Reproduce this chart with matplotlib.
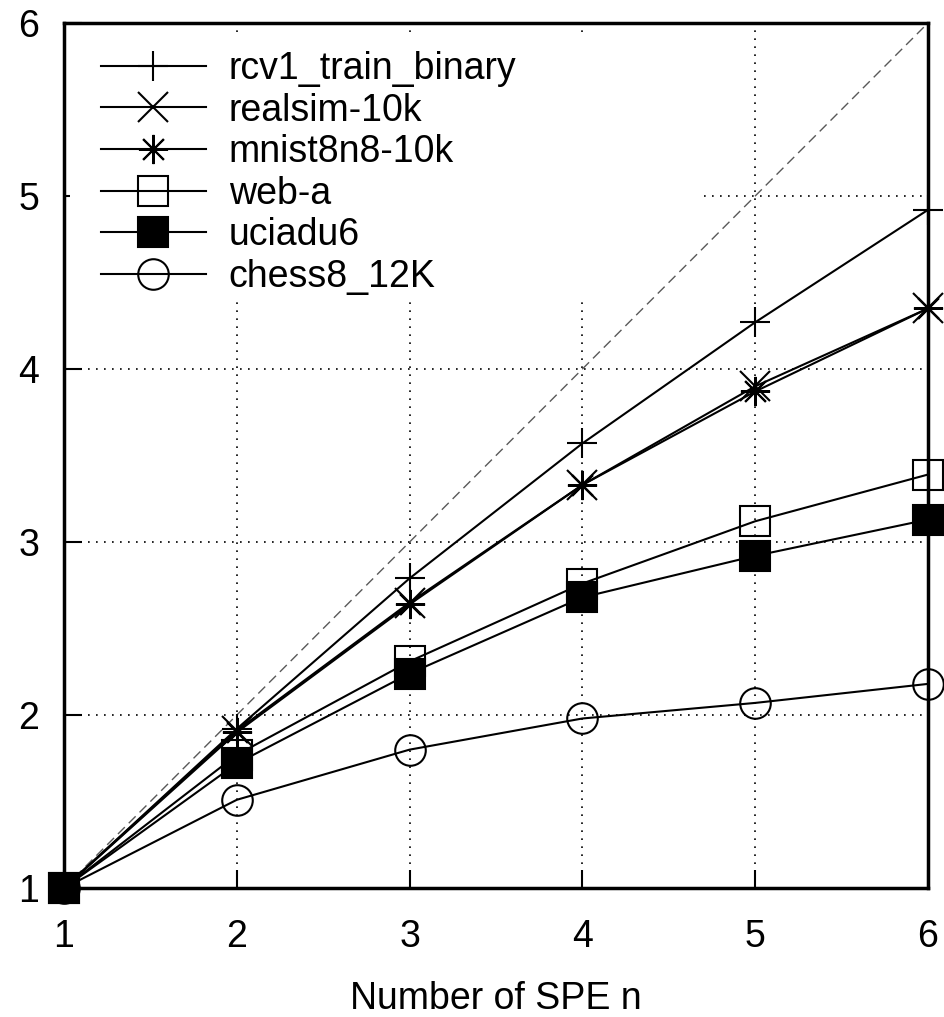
import matplotlib
matplotlib.use("Agg")
import matplotlib.pyplot as plt
from matplotlib.patches import Rectangle

# speedup vs number of SPEs
n_spe = [1, 2, 3, 4, 5, 6]
rcv1_train_binary = [1.0, 1.92, 2.79, 3.57, 4.27, 4.92]
realsim_10k = [1.0, 1.91, 2.65, 3.33, 3.90, 4.35]
mnist8n8_10k = [1.0, 1.90, 2.64, 3.33, 3.87, 4.35]
web_a = [1.0, 1.77, 2.31, 2.76, 3.12, 3.39]
uciadu6 = [1.0, 1.72, 2.24, 2.68, 2.92, 3.13]
chess8_12K = [1.0, 1.51, 1.80, 1.98, 2.07, 2.18]

series = [
    ("rcv1_train_binary", rcv1_train_binary, dict(marker="+", mfc="none")),
    ("realsim-10k", realsim_10k, dict(marker="x", mfc="none")),
    ("mnist8n8-10k", mnist8n8_10k, dict(marker=(8, 2, 0), mfc="none")),
    ("web-a", web_a, dict(marker="s", mfc="none")),
    ("uciadu6", uciadu6, dict(marker="s", mfc="black")),
    ("chess8_12K", chess8_12K, dict(marker="o", mfc="none")),
]

plt.rcParams["font.family"] = ["Liberation Sans", "DejaVu Sans"]

fig = plt.figure(figsize=(9.45, 10.17), dpi=100)
ax = fig.add_axes([0.0677, 0.1268, 0.9143, 0.8506])

# ideal linear speedup
ax.plot([1, 6], [1, 6], color="0.35", lw=1.0, dashes=(7, 4), zorder=2)

handles = []
for name, ys, style in series:
    ms = 21 if style["marker"] != "o" else 22
    h, = ax.plot(n_spe, ys, color="black", lw=1.5, markersize=ms,
                 mec="black", mew=1.5, label=name, zorder=3, clip_on=False,
                 **style)
    handles.append(h)

# opaque key area hides the grid underneath
ax.add_patch(Rectangle((0.007, 0.682), 0.727, 0.301, transform=ax.transAxes,
                       facecolor="white", edgecolor="none", zorder=1))

leg = ax.legend(handles=handles, loc="upper left", bbox_to_anchor=(0.025, 0.985),
                frameon=False, fontsize=27, handlelength=2.8,
                handletextpad=0.62, labelspacing=0.15, borderaxespad=0.0)

ax.set_xlim(1, 6)
ax.set_ylim(1, 6)
ax.set_xticks(n_spe)
ax.set_yticks([1, 2, 3, 4, 5, 6])
ax.grid(True, color="black", lw=1.2, linestyle=(0, (1, 3.8)), zorder=0)
ax.set_axisbelow(True)

ax.tick_params(direction="in", length=13, width=1.5, labelsize=27)
ax.tick_params(axis="x", pad=22)
ax.tick_params(axis="y", pad=18)
for sp in ax.spines.values():
    sp.set_linewidth(2.5)
    sp.set_zorder(4)

ax.set_xlabel("Number of SPE n", fontsize=27, labelpad=19)

fig.savefig("out.png", dpi=100)
